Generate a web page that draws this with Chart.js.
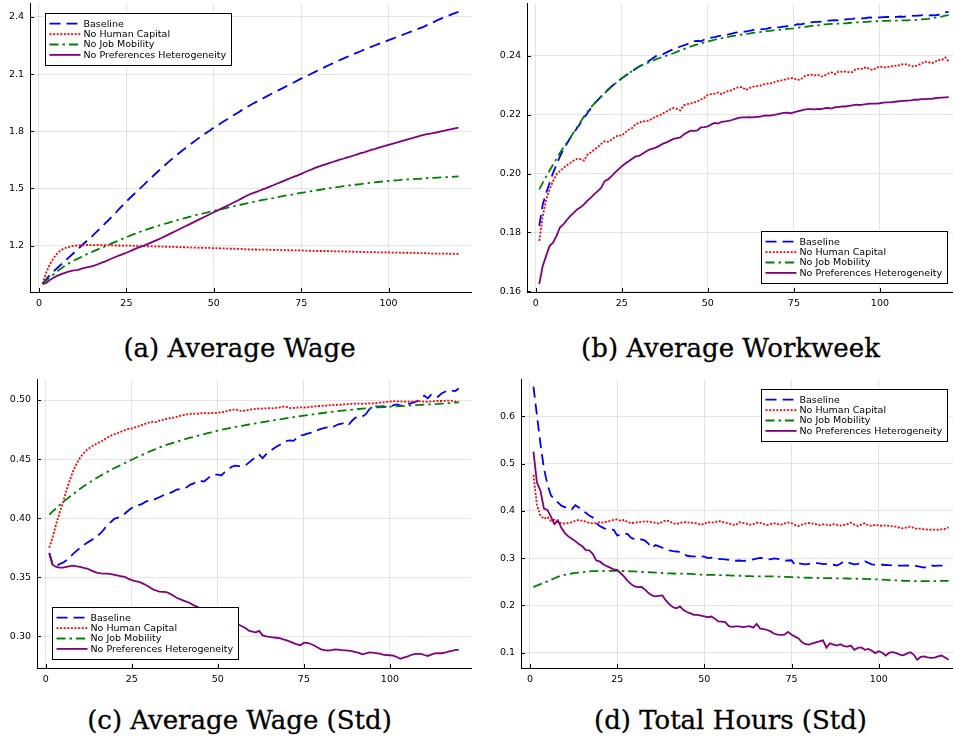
<!DOCTYPE html>
<html>
<head>
<meta charset="utf-8">
<script src="https://cdn.jsdelivr.net/npm/chart.js@4.4.1/dist/chart.umd.min.js"></script>
<style>
  html, body { margin: 0; padding: 0; background: #fff; }
  body { width: 953px; height: 740px; overflow: hidden; position: relative; }
  canvas { position: absolute; }
  .cap { position: absolute; transform: translateX(-50%); font-family: "DejaVu Serif", serif; font-size: 26px; line-height: 30px; color: #000; white-space: nowrap; -webkit-text-stroke: 0.3px #000; }
</style>
</head>
<body>
<canvas id="chartA" width="476" height="312" style="left:0;top:0;width:476px;height:312px"></canvas>
<canvas id="chartB" width="486" height="312" style="left:480px;top:0;width:486px;height:312px"></canvas>
<canvas id="chartC" width="476" height="312" style="left:0;top:376px;width:476px;height:312px"></canvas>
<canvas id="chartD" width="486" height="312" style="left:480px;top:376px;width:486px;height:312px"></canvas>
<div class="cap" style="left:239.5px;top:333px">(a) Average Wage</div>
<div class="cap" style="left:730.5px;top:333px">(b) Average Workweek</div>
<div class="cap" style="left:239.5px;top:705px">(c) Average Wage (Std)</div>
<div class="cap" style="left:730.5px;top:705px">(d) Total Hours (Std)</div>
<script>
// ---- series names ----
const seriesNames = ['Baseline', 'No Human Capital', 'No Job Mobility', 'No Preferences Heterogeneity'];

// ---- x axis: simulation periods 1..120 ----
const periods = Array.from({ length: 120 }, (_, i) => i + 1);
const xTicks = [0, 25, 50, 75, 100];

// ---- (a) Average Wage ----
const wageBaseline = [1.000,1.022,1.044,1.062,1.079,1.096,1.112,1.129,1.146,1.163,
1.180,1.197,1.214,1.230,1.246,1.264,1.282,1.300,1.318,1.336,
1.355,1.374,1.394,1.413,1.432,1.450,1.467,1.485,1.502,1.519,
1.537,1.554,1.572,1.589,1.606,1.622,1.638,1.654,1.670,1.685,
1.699,1.713,1.727,1.741,1.755,1.768,1.781,1.794,1.806,1.819,
1.830,1.842,1.854,1.865,1.877,1.888,1.899,1.911,1.922,1.933,
1.943,1.953,1.963,1.972,1.982,1.992,2.001,2.010,2.020,2.029,
2.039,2.048,2.057,2.067,2.076,2.085,2.094,2.103,2.112,2.121,
2.130,2.139,2.148,2.156,2.165,2.173,2.181,2.189,2.197,2.205,
2.213,2.220,2.228,2.235,2.243,2.250,2.257,2.264,2.271,2.278,
2.285,2.292,2.299,2.306,2.313,2.320,2.327,2.334,2.341,2.348,
2.357,2.366,2.374,2.383,2.391,2.398,2.405,2.413,2.420,2.427];
const wageNoHC = [1.000,1.055,1.098,1.130,1.155,1.172,1.184,1.191,1.196,1.199,
1.201,1.203,1.203,1.204,1.203,1.203,1.204,1.203,1.203,1.202,
1.202,1.201,1.201,1.200,1.200,1.200,1.199,1.199,1.198,1.198,
1.197,1.197,1.196,1.196,1.195,1.195,1.194,1.194,1.193,1.192,
1.192,1.191,1.191,1.190,1.190,1.189,1.189,1.188,1.188,1.187,
1.187,1.186,1.186,1.185,1.184,1.184,1.183,1.183,1.181,1.180,
1.180,1.180,1.179,1.179,1.179,1.178,1.178,1.178,1.177,1.177,
1.176,1.176,1.175,1.175,1.175,1.174,1.174,1.173,1.173,1.172,
1.172,1.172,1.171,1.171,1.170,1.170,1.170,1.169,1.169,1.168,
1.167,1.167,1.166,1.166,1.166,1.166,1.165,1.165,1.165,1.165,
1.164,1.164,1.164,1.163,1.163,1.162,1.162,1.162,1.161,1.161,
1.160,1.159,1.158,1.158,1.158,1.158,1.158,1.157,1.157,1.157];
const wageNoJM = [1.000,1.016,1.032,1.047,1.062,1.076,1.089,1.101,1.112,1.122,
1.131,1.140,1.149,1.158,1.166,1.174,1.182,1.190,1.197,1.205,
1.213,1.221,1.229,1.237,1.245,1.252,1.259,1.266,1.273,1.280,
1.286,1.292,1.298,1.304,1.310,1.315,1.320,1.326,1.331,1.336,
1.341,1.346,1.351,1.356,1.361,1.365,1.369,1.374,1.378,1.382,
1.387,1.391,1.395,1.400,1.404,1.408,1.412,1.416,1.420,1.424,
1.428,1.432,1.436,1.440,1.443,1.447,1.450,1.454,1.457,1.461,
1.464,1.467,1.471,1.474,1.477,1.480,1.483,1.486,1.489,1.492,
1.495,1.498,1.501,1.504,1.507,1.509,1.512,1.514,1.517,1.519,
1.521,1.523,1.526,1.528,1.530,1.532,1.534,1.536,1.538,1.540,
1.541,1.543,1.544,1.546,1.547,1.548,1.549,1.550,1.551,1.553,
1.554,1.555,1.556,1.557,1.558,1.559,1.560,1.561,1.562,1.563];
const wageNoPH = [1.000,1.003,1.018,1.030,1.040,1.048,1.055,1.061,1.066,1.070,
1.072,1.078,1.083,1.087,1.091,1.097,1.104,1.111,1.118,1.126,
1.134,1.142,1.149,1.156,1.163,1.171,1.179,1.187,1.194,1.200,
1.208,1.216,1.224,1.232,1.240,1.249,1.258,1.267,1.276,1.285,
1.294,1.303,1.312,1.321,1.330,1.339,1.348,1.357,1.366,1.375,
1.384,1.393,1.402,1.411,1.420,1.429,1.438,1.448,1.458,1.467,
1.474,1.481,1.488,1.495,1.502,1.510,1.517,1.525,1.532,1.540,
1.548,1.555,1.562,1.569,1.577,1.585,1.593,1.600,1.608,1.615,
1.621,1.627,1.633,1.639,1.645,1.651,1.656,1.662,1.667,1.673,
1.679,1.685,1.690,1.696,1.702,1.707,1.713,1.718,1.723,1.729,
1.734,1.739,1.745,1.750,1.755,1.760,1.765,1.771,1.776,1.781,
1.785,1.788,1.792,1.795,1.799,1.803,1.807,1.811,1.815,1.819];
const wageYTicks = [1.2, 1.5, 1.8, 2.1, 2.4];

// ---- (b) Average Workweek ----
const weekBaseline = [0.1822,0.1895,0.1934,0.1968,0.2002,0.2030,0.2058,0.2081,0.2101,0.2121,
0.2138,0.2155,0.2172,0.2188,0.2206,0.2222,0.2238,0.2250,0.2262,0.2276,
0.2286,0.2296,0.2306,0.2315,0.2324,0.2332,0.2340,0.2348,0.2356,0.2364,
0.2370,0.2377,0.2384,0.2392,0.2400,0.2403,0.2406,0.2412,0.2418,0.2423,
0.2427,0.2432,0.2436,0.2440,0.2445,0.2450,0.2451,0.2450,0.2456,0.2460,
0.2462,0.2464,0.2467,0.2469,0.2471,0.2473,0.2476,0.2479,0.2481,0.2482,
0.2483,0.2485,0.2488,0.2490,0.2490,0.2491,0.2492,0.2495,0.2497,0.2497,
0.2498,0.2500,0.2501,0.2501,0.2503,0.2508,0.2507,0.2510,0.2512,0.2514,
0.2516,0.2516,0.2517,0.2518,0.2520,0.2521,0.2522,0.2521,0.2520,0.2524,
0.2525,0.2526,0.2528,0.2527,0.2528,0.2529,0.2531,0.2530,0.2530,0.2531,
0.2532,0.2533,0.2532,0.2532,0.2533,0.2534,0.2533,0.2535,0.2537,0.2536,
0.2537,0.2538,0.2539,0.2537,0.2539,0.2538,0.2540,0.2542,0.2548,0.2550];
const weekNoHC = [0.1771,0.1855,0.1912,0.1946,0.1974,0.1997,0.2008,0.2019,0.2028,0.2036,
0.2044,0.2050,0.2049,0.2044,0.2064,0.2072,0.2081,0.2090,0.2101,0.2110,
0.2108,0.2115,0.2124,0.2130,0.2129,0.2140,0.2149,0.2155,0.2168,0.2172,
0.2178,0.2177,0.2181,0.2188,0.2194,0.2198,0.2205,0.2211,0.2218,0.2223,
0.2220,0.2215,0.2232,0.2236,0.2238,0.2242,0.2245,0.2252,0.2258,0.2268,
0.2270,0.2272,0.2276,0.2270,0.2277,0.2281,0.2284,0.2290,0.2294,0.2294,
0.2284,0.2290,0.2295,0.2297,0.2298,0.2302,0.2306,0.2305,0.2310,0.2313,
0.2316,0.2318,0.2322,0.2324,0.2324,0.2318,0.2320,0.2330,0.2335,0.2336,
0.2334,0.2336,0.2330,0.2334,0.2340,0.2344,0.2338,0.2347,0.2346,0.2347,
0.2345,0.2345,0.2355,0.2357,0.2356,0.2362,0.2355,0.2352,0.2360,0.2364,
0.2361,0.2361,0.2364,0.2367,0.2366,0.2370,0.2373,0.2370,0.2366,0.2364,
0.2368,0.2374,0.2381,0.2379,0.2375,0.2380,0.2386,0.2386,0.2395,0.2381];
const weekNoJM = [0.1946,0.1968,0.1990,0.2010,0.2030,0.2050,0.2070,0.2088,0.2105,0.2122,
0.2140,0.2158,0.2176,0.2194,0.2210,0.2225,0.2238,0.2250,0.2262,0.2273,
0.2284,0.2295,0.2305,0.2315,0.2324,0.2333,0.2341,0.2348,0.2356,0.2363,
0.2369,0.2374,0.2379,0.2384,0.2389,0.2393,0.2397,0.2401,0.2405,0.2409,
0.2414,0.2419,0.2423,0.2428,0.2432,0.2436,0.2439,0.2443,0.2446,0.2449,
0.2452,0.2455,0.2458,0.2460,0.2463,0.2465,0.2467,0.2469,0.2471,0.2473,
0.2475,0.2476,0.2478,0.2480,0.2481,0.2482,0.2484,0.2485,0.2487,0.2488,
0.2489,0.2490,0.2492,0.2493,0.2494,0.2496,0.2497,0.2499,0.2500,0.2502,
0.2503,0.2504,0.2505,0.2507,0.2508,0.2509,0.2509,0.2510,0.2511,0.2511,
0.2512,0.2513,0.2514,0.2514,0.2515,0.2516,0.2517,0.2518,0.2518,0.2519,
0.2519,0.2519,0.2520,0.2520,0.2520,0.2521,0.2521,0.2521,0.2522,0.2522,
0.2523,0.2524,0.2525,0.2526,0.2528,0.2530,0.2532,0.2534,0.2537,0.2539];
const weekNoPH = [0.1624,0.1686,0.1720,0.1754,0.1765,0.1788,0.1816,0.1827,0.1842,0.1855,
0.1866,0.1878,0.1885,0.1895,0.1908,0.1918,0.1930,0.1940,0.1952,0.1974,
0.1980,0.1991,0.2003,0.2014,0.2025,0.2034,0.2042,0.2050,0.2058,0.2060,
0.2067,0.2075,0.2081,0.2085,0.2089,0.2095,0.2102,0.2106,0.2112,0.2118,
0.2120,0.2123,0.2133,0.2140,0.2146,0.2145,0.2147,0.2157,0.2158,0.2160,
0.2167,0.2172,0.2170,0.2176,0.2177,0.2179,0.2182,0.2186,0.2189,0.2191,
0.2191,0.2192,0.2191,0.2193,0.2193,0.2196,0.2198,0.2197,0.2199,0.2201,
0.2204,0.2206,0.2207,0.2205,0.2208,0.2211,0.2214,0.2217,0.2219,0.2219,
0.2218,0.2220,0.2219,0.2222,0.2223,0.2221,0.2226,0.2226,0.2228,0.2228,
0.2230,0.2232,0.2234,0.2233,0.2234,0.2236,0.2238,0.2238,0.2238,0.2239,
0.2241,0.2242,0.2242,0.2244,0.2245,0.2246,0.2247,0.2248,0.2249,0.2251,
0.2251,0.2253,0.2253,0.2254,0.2254,0.2256,0.2257,0.2258,0.2259,0.2260];
const weekYTicks = [0.16, 0.18, 0.20, 0.22, 0.24];

// ---- (c) Average Wage (Std) ----
const wageSdBaseline = [0.3700,0.3606,0.3592,0.3612,0.3624,0.3645,0.3671,0.3700,0.3725,0.3750,
0.3772,0.3792,0.3810,0.3830,0.3850,0.3875,0.3910,0.3947,0.3970,0.3997,
0.4005,0.4017,0.4040,0.4065,0.4087,0.4095,0.4110,0.4121,0.4140,0.4149,
0.4150,0.4165,0.4177,0.4192,0.4205,0.4212,0.4225,0.4242,0.4245,0.4256,
0.4262,0.4284,0.4295,0.4310,0.4317,0.4310,0.4335,0.4360,0.4368,0.4368,
0.4362,0.4390,0.4410,0.4435,0.4444,0.4440,0.4442,0.4446,0.4470,0.4494,
0.4520,0.4537,0.4508,0.4540,0.4565,0.4585,0.4605,0.4621,0.4640,0.4654,
0.4658,0.4654,0.4680,0.4700,0.4705,0.4715,0.4722,0.4728,0.4745,0.4756,
0.4765,0.4770,0.4765,0.4780,0.4795,0.4800,0.4809,0.4790,0.4825,0.4851,
0.4855,0.4860,0.4880,0.4920,0.4944,0.4946,0.4945,0.4949,0.4940,0.4944,
0.4955,0.4963,0.4955,0.4949,0.4960,0.4972,0.4980,0.4992,0.5015,0.5037,
0.5014,0.5045,0.5030,0.5028,0.5056,0.5070,0.5084,0.5080,0.5076,0.5098];
const wageSdNoHC = [0.3750,0.3840,0.3950,0.4045,0.4135,0.4235,0.4325,0.4405,0.4465,0.4515,
0.4550,0.4580,0.4600,0.4618,0.4635,0.4648,0.4665,0.4683,0.4700,0.4711,
0.4722,0.4735,0.4745,0.4755,0.4761,0.4768,0.4778,0.4790,0.4800,0.4810,
0.4815,0.4813,0.4825,0.4832,0.4840,0.4846,0.4850,0.4858,0.4866,0.4873,
0.4878,0.4882,0.4885,0.4883,0.4888,0.4890,0.4888,0.4890,0.4891,0.4892,
0.4896,0.4902,0.4910,0.4916,0.4921,0.4912,0.4907,0.4910,0.4918,0.4921,
0.4925,0.4928,0.4928,0.4930,0.4932,0.4930,0.4934,0.4938,0.4944,0.4942,
0.4932,0.4933,0.4936,0.4938,0.4937,0.4938,0.4942,0.4946,0.4949,0.4950,
0.4952,0.4954,0.4958,0.4960,0.4958,0.4960,0.4965,0.4966,0.4968,0.4969,
0.4970,0.4968,0.4970,0.4972,0.4972,0.4975,0.4978,0.4980,0.4984,0.4986,
0.4990,0.4988,0.4988,0.4986,0.4986,0.4985,0.4987,0.4988,0.4990,0.4986,
0.4985,0.4988,0.4990,0.4992,0.4992,0.4993,0.4995,0.4992,0.4988,0.4986];
const wageSdNoJM = [0.4030,0.4057,0.4084,0.4110,0.4135,0.4159,0.4183,0.4206,0.4228,0.4250,
0.4270,0.4289,0.4308,0.4327,0.4345,0.4362,0.4378,0.4394,0.4410,0.4425,
0.4439,0.4453,0.4467,0.4481,0.4495,0.4509,0.4523,0.4536,0.4549,0.4562,
0.4574,0.4586,0.4598,0.4609,0.4620,0.4629,0.4638,0.4647,0.4656,0.4665,
0.4673,0.4681,0.4689,0.4697,0.4705,0.4712,0.4720,0.4727,0.4735,0.4742,
0.4748,0.4754,0.4760,0.4766,0.4772,0.4777,0.4782,0.4788,0.4793,0.4798,
0.4803,0.4808,0.4813,0.4818,0.4823,0.4828,0.4832,0.4837,0.4841,0.4846,
0.4850,0.4855,0.4859,0.4864,0.4868,0.4872,0.4876,0.4880,0.4884,0.4888,
0.4892,0.4896,0.4900,0.4903,0.4907,0.4910,0.4913,0.4915,0.4918,0.4921,
0.4924,0.4927,0.4930,0.4932,0.4935,0.4937,0.4939,0.4940,0.4942,0.4944,
0.4946,0.4947,0.4949,0.4950,0.4952,0.4954,0.4956,0.4957,0.4959,0.4961,
0.4963,0.4964,0.4966,0.4967,0.4969,0.4971,0.4973,0.4976,0.4978,0.4980];
const wageSdNoPH = [0.3708,0.3604,0.3587,0.3582,0.3581,0.3588,0.3595,0.3598,0.3592,0.3587,
0.3580,0.3574,0.3560,0.3548,0.3538,0.3533,0.3531,0.3530,0.3527,0.3520,
0.3513,0.3508,0.3503,0.3486,0.3475,0.3467,0.3460,0.3450,0.3435,0.3420,
0.3399,0.3388,0.3379,0.3377,0.3375,0.3362,0.3345,0.3326,0.3315,0.3302,
0.3292,0.3280,0.3262,0.3250,0.3235,0.3220,0.3205,0.3190,0.3175,0.3160,
0.3148,0.3135,0.3122,0.3110,0.3105,0.3100,0.3085,0.3070,0.3048,0.3040,
0.3034,0.3046,0.3008,0.2999,0.2995,0.2992,0.2988,0.2984,0.2975,0.2965,
0.2955,0.2942,0.2932,0.2925,0.2946,0.2945,0.2935,0.2922,0.2906,0.2890,
0.2884,0.2880,0.2884,0.2889,0.2887,0.2884,0.2882,0.2879,0.2874,0.2867,
0.2860,0.2848,0.2855,0.2864,0.2862,0.2858,0.2853,0.2846,0.2842,0.2840,
0.2837,0.2825,0.2810,0.2820,0.2829,0.2840,0.2849,0.2852,0.2851,0.2842,
0.2834,0.2845,0.2856,0.2857,0.2857,0.2862,0.2870,0.2876,0.2885,0.2886];
const wageSdYTicks = [0.30, 0.35, 0.40, 0.45, 0.50];

// ---- (d) Total Hours (Std) ----
const hoursSdBaseline = [0.6627,0.6020,0.5420,0.4900,0.4560,0.4330,0.4250,0.4180,0.4110,0.4080,
0.4050,0.4030,0.4120,0.4070,0.4010,0.3960,0.3900,0.3860,0.3740,0.3680,
0.3640,0.3610,0.3605,0.3600,0.3480,0.3500,0.3525,0.3510,0.3430,0.3400,
0.3385,0.3395,0.3370,0.3300,0.3215,0.3275,0.3250,0.3220,0.3185,0.3165,
0.3150,0.3140,0.3130,0.3100,0.3050,0.3040,0.3035,0.3030,0.3040,0.3030,
0.3000,0.3010,0.2990,0.2985,0.2980,0.2975,0.2965,0.2950,0.2945,0.2950,
0.2940,0.2945,0.2960,0.2975,0.2990,0.3005,0.2995,0.2985,0.2975,0.2995,
0.2985,0.2965,0.2945,0.2950,0.2955,0.2850,0.2890,0.2880,0.2870,0.2880,
0.2890,0.2895,0.2890,0.2875,0.2880,0.2870,0.2860,0.2845,0.2880,0.2930,
0.2915,0.2890,0.2870,0.2880,0.2900,0.2935,0.2900,0.2870,0.2860,0.2865,
0.2860,0.2855,0.2850,0.2848,0.2845,0.2843,0.2840,0.2845,0.2842,0.2838,
0.2830,0.2815,0.2800,0.2830,0.2845,0.2835,0.2840,0.2840,0.2845,0.2855];
const hoursSdNoHC = [0.4760,0.4120,0.3900,0.3830,0.3870,0.3790,0.3810,0.3760,0.3740,0.3730,
0.3745,0.3760,0.3790,0.3810,0.3790,0.3770,0.3745,0.3735,0.3740,0.3760,
0.3750,0.3770,0.3790,0.3810,0.3820,0.3790,0.3810,0.3760,0.3740,0.3750,
0.3760,0.3770,0.3780,0.3770,0.3760,0.3745,0.3730,0.3770,0.3800,0.3780,
0.3740,0.3720,0.3745,0.3760,0.3760,0.3745,0.3750,0.3730,0.3705,0.3730,
0.3765,0.3750,0.3760,0.3785,0.3770,0.3750,0.3735,0.3710,0.3700,0.3760,
0.3745,0.3730,0.3705,0.3720,0.3750,0.3745,0.3720,0.3700,0.3720,0.3740,
0.3720,0.3710,0.3735,0.3755,0.3740,0.3700,0.3680,0.3710,0.3730,0.3745,
0.3730,0.3720,0.3700,0.3715,0.3710,0.3695,0.3720,0.3705,0.3690,0.3700,
0.3720,0.3750,0.3710,0.3680,0.3710,0.3740,0.3690,0.3680,0.3705,0.3690,
0.3685,0.3695,0.3680,0.3670,0.3665,0.3640,0.3630,0.3650,0.3665,0.3640,
0.3620,0.3625,0.3610,0.3605,0.3600,0.3605,0.3600,0.3610,0.3620,0.3650];
const hoursSdNoJM = [0.2387,0.2420,0.2450,0.2480,0.2507,0.2540,0.2575,0.2605,0.2628,0.2648,
0.2662,0.2675,0.2686,0.2695,0.2704,0.2712,0.2718,0.2723,0.2727,0.2730,
0.2731,0.2732,0.2732,0.2731,0.2730,0.2728,0.2726,0.2724,0.2721,0.2718,
0.2714,0.2710,0.2705,0.2701,0.2697,0.2693,0.2689,0.2685,0.2680,0.2676,
0.2675,0.2673,0.2672,0.2670,0.2669,0.2665,0.2661,0.2656,0.2652,0.2648,
0.2647,0.2645,0.2644,0.2642,0.2641,0.2638,0.2635,0.2632,0.2630,0.2627,
0.2624,0.2621,0.2619,0.2616,0.2613,0.2613,0.2613,0.2613,0.2613,0.2613,
0.2610,0.2607,0.2604,0.2602,0.2599,0.2596,0.2593,0.2591,0.2588,0.2585,
0.2583,0.2582,0.2580,0.2579,0.2577,0.2576,0.2574,0.2573,0.2571,0.2570,
0.2569,0.2567,0.2566,0.2564,0.2563,0.2560,0.2557,0.2555,0.2552,0.2549,
0.2545,0.2541,0.2536,0.2532,0.2528,0.2525,0.2522,0.2519,0.2517,0.2514,
0.2514,0.2514,0.2514,0.2514,0.2514,0.2515,0.2516,0.2518,0.2519,0.2521];
const hoursSdNoPH = [0.5254,0.4600,0.4430,0.4050,0.4020,0.3880,0.3720,0.3800,0.3640,0.3530,
0.3460,0.3410,0.3360,0.3300,0.3250,0.3170,0.3165,0.3090,0.2950,0.2930,
0.2870,0.2830,0.2800,0.2760,0.2750,0.2680,0.2610,0.2520,0.2450,0.2400,
0.2385,0.2390,0.2335,0.2260,0.2210,0.2190,0.2200,0.2210,0.2100,0.2020,
0.1960,0.1940,0.1980,0.1900,0.1860,0.1830,0.1800,0.1800,0.1785,0.1770,
0.1750,0.1765,0.1720,0.1660,0.1655,0.1645,0.1560,0.1545,0.1555,0.1555,
0.1540,0.1550,0.1560,0.1530,0.1610,0.1510,0.1500,0.1480,0.1450,0.1400,
0.1380,0.1375,0.1380,0.1440,0.1380,0.1340,0.1300,0.1220,0.1180,0.1170,
0.1195,0.1220,0.1240,0.1260,0.1110,0.1200,0.1170,0.1150,0.1180,0.1140,
0.1130,0.1150,0.1060,0.1100,0.1110,0.1060,0.1080,0.1040,0.0990,0.1030,
0.1000,0.0940,0.1000,0.1010,0.0990,0.0960,0.0945,0.0980,0.1010,0.0960,
0.0850,0.0910,0.0920,0.0900,0.0890,0.0895,0.0920,0.0940,0.0900,0.0850];
const hoursSdYTicks = [0.1, 0.2, 0.3, 0.4, 0.5, 0.6];

// ---- line styles per series (drawing order: purple on top) ----
const lineStyles = [
  { color: '#0000ff', dash: [11, 6], width: 1.8, order: 4 },
  { color: '#ff0000', dash: [2, 1.6], width: 1.8, order: 3 },
  { color: '#008000', dash: [9, 4, 2.5, 4], width: 1.8, order: 2 },
  { color: '#800080', dash: [], width: 1.8, order: 1 }
];

const TICK_FONT = { family: 'DejaVu Sans', size: 9.5 };

// inward tick marks on the left and bottom axes
const innerTicks = {
  id: 'innerTicks',
  afterDraw(chart) {
    const { ctx, chartArea: ca } = chart;
    const xs = chart.scales.x, ys = chart.scales.y;
    ctx.save();
    ctx.strokeStyle = '#000';
    ctx.lineWidth = 1;
    ctx.beginPath();
    xs.ticks.forEach(t => {
      const px = Math.round(xs.getPixelForValue(t.value)) + 0.5;
      ctx.moveTo(px, ca.bottom); ctx.lineTo(px, ca.bottom - 4);
    });
    ys.ticks.forEach(t => {
      const py = Math.round(ys.getPixelForValue(t.value)) + 0.5;
      ctx.moveTo(ca.left, py); ctx.lineTo(ca.left + 4, py);
    });
    ctx.stroke();
    ctx.restore();
  }
};

// framed legend placed in a corner of the plot area
const boxLegend = {
  id: 'boxLegend',
  afterDraw(chart, args, opts) {
    const { ctx, chartArea: ca } = chart;
    const sets = chart.data.datasets.slice().sort((a, b) => b.order - a.order);
    ctx.save();
    ctx.font = '9.5px "DejaVu Sans"';
    const tw = Math.max(...sets.map(d => ctx.measureText(d.label).width));
    const w = Math.round(38 + tw + 5), rowH = 10.4, h = Math.round(rowH * sets.length + 10.4);
    let bx = opts.corner[1] === 'l' ? ca.left + 15 : ca.right - 14 - w;
    let by = opts.corner[0] === 't' ? ca.top + 10 : ca.bottom - 9 - h;
    bx = Math.round(bx) + 0.5; by = Math.round(by) + 0.5;
    ctx.fillStyle = '#fff';
    ctx.fillRect(bx, by, w, h);
    ctx.strokeStyle = '#000';
    ctx.lineWidth = 1;
    ctx.strokeRect(bx, by, w, h);
    sets.forEach((d, i) => {
      const cy = by + 10.2 + i * rowH;
      ctx.beginPath();
      ctx.setLineDash(d.borderDash || []);
      ctx.strokeStyle = d.borderColor;
      ctx.lineWidth = d.borderWidth;
      ctx.moveTo(bx + 4, cy); ctx.lineTo(bx + 35, cy);
      ctx.stroke();
      ctx.setLineDash([]);
      ctx.fillStyle = '#000';
      ctx.textBaseline = 'middle';
      ctx.fillText(d.label, bx + 38, cy + 0.5);
    });
    ctx.restore();
  }
};

function makePanel(id, seriesList, yTicks, yDecimals, yMin, yMax, yAxisWidth, padTop, padRight, corner) {
  const datasets = seriesList.map((vals, i) => ({
    label: seriesNames[i],
    data: vals.map((v, k) => ({ x: periods[k], y: v })),
    borderColor: lineStyles[i].color,
    borderDash: lineStyles[i].dash,
    borderWidth: lineStyles[i].width,
    borderCapStyle: 'butt',
    pointRadius: 0,
    fill: false,
    tension: 0,
    order: lineStyles[i].order
  }));
  return new Chart(document.getElementById(id), {
    type: 'line',
    data: { datasets },
    options: {
      responsive: false,
      devicePixelRatio: 1,
      animation: false,
      layout: { padding: { top: padTop, right: padRight, left: 0, bottom: 0 } },
      plugins: { legend: { display: false }, tooltip: { enabled: false }, boxLegend: { corner } },
      scales: {
        x: {
          type: 'linear',
          min: -2.57, max: 123.57,
          afterBuildTicks: s => { s.ticks = xTicks.map(v => ({ value: v })); },
          afterFit: s => { s.height = 20; s.paddingLeft = 0; s.paddingRight = 0; },
          grid: { color: 'rgba(0,0,0,0.1)', lineWidth: 1, drawTicks: false },
          border: { display: true, color: '#000', width: 1 },
          ticks: { font: TICK_FONT, color: '#000', padding: 6, maxRotation: 0, autoSkip: false, callback: v => String(v) }
        },
        y: {
          type: 'linear',
          min: yMin, max: yMax,
          afterBuildTicks: s => { s.ticks = yTicks.map(v => ({ value: v })); },
          afterFit: s => { s.width = yAxisWidth; s.paddingTop = 0; s.paddingBottom = 0; },
          grid: { color: 'rgba(0,0,0,0.1)', lineWidth: 1, drawTicks: false },
          border: { display: true, color: '#000', width: 1 },
          ticks: { font: TICK_FONT, color: '#000', padding: 6, autoSkip: false, callback: v => Number(v).toFixed(yDecimals) }
        }
      }
    },
    plugins: [innerTicks, boxLegend]
  });
}

makePanel('chartA', [wageBaseline, wageNoHC, wageNoJM, wageNoPH], wageYTicks, 1, 0.957, 2.473, 30, 3, 5, 'tl');
makePanel('chartB', [weekBaseline, weekNoHC, weekNoJM, weekNoPH], weekYTicks, 2, 0.1597, 0.2580, 47, 3, 5, 'br');
makePanel('chartC', [wageSdBaseline, wageSdNoHC, wageSdNoJM, wageSdNoPH], wageSdYTicks, 2, 0.2732, 0.5178, 37, 3, 5, 'bl');
makePanel('chartD', [hoursSdBaseline, hoursSdNoHC, hoursSdNoJM, hoursSdNoPH], hoursSdYTicks, 1, 0.0676, 0.6789, 41, 3, 5, 'tr');
</script>
</body>
</html>
